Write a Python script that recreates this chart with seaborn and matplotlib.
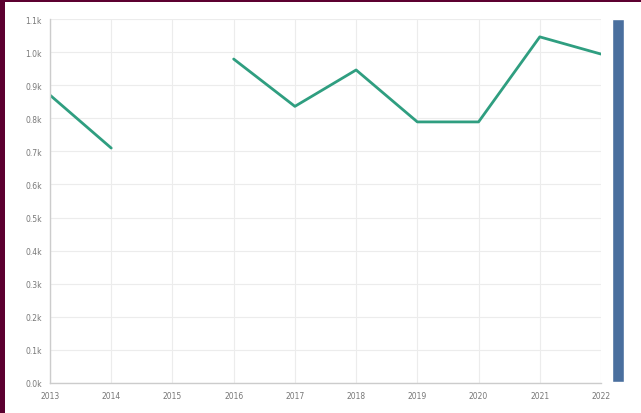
import seaborn as sns
import matplotlib.pyplot as plt
import matplotlib.patches as mpatches
import numpy as np
import pandas as pd

# dados (2015 sem valor)
anos = [2013, 2014, 2015, 2016, 2017, 2018, 2019, 2020, 2021, 2022]
valores = [870, 710, np.nan, 979, 836, 946, 789, 789, 1046, 994]
segmento = [0, 0, 1, 2, 2, 2, 2, 2, 2, 2]
y_ticks = [i * 100 for i in range(12)]

df = pd.DataFrame({"ano": anos, "valor": valores, "seg": segmento}).dropna()

sns.set_style("white")
plt.rcParams["font.family"] = ["DejaVu Sans"]

fig = plt.figure(figsize=(6.41, 4.14), dpi=100)
fig.patch.set_facecolor("#5c0030")
fig.patches.append(mpatches.Rectangle((5 / 641, 0), 1, 1 - 3 / 414, transform=fig.transFigure,
                                      facecolor="white", edgecolor="none", zorder=-10))

ax = fig.add_axes([50 / 641, 30 / 414, 551 / 641, 364 / 414])
ax.set_facecolor("white")

sns.lineplot(data=df, x="ano", y="valor", units="seg", estimator=None,
             color="#2f9e80", linewidth=2, ax=ax)

ax.set_xlim(2013, 2022)
ax.set_ylim(0, 1100)
ax.set_xticks(anos)
ax.set_xticklabels([str(a) for a in anos])
ax.set_yticks(y_ticks)
ax.set_yticklabels([f"{v / 1000:.1f}k" for v in y_ticks])
ax.grid(True, color="#ececec", linewidth=0.8)
ax.set_xlabel("")
ax.set_ylabel("")
for lado in ["top", "right"]:
    ax.spines[lado].set_visible(False)
for lado in ["left", "bottom"]:
    ax.spines[lado].set_color("#cccccc")
    ax.spines[lado].set_linewidth(1)
ax.tick_params(axis="both", labelsize=5.5, colors="#888888", length=3, width=0.6, pad=3)
for lbl in ax.get_xticklabels() + ax.get_yticklabels():
    lbl.set_color("#777777")

# barra azul à direita
ax2 = fig.add_axes([612 / 641, 31 / 414, 12 / 641, 363 / 414])
ax2.bar([0], [1], width=1, color="#4a6f9e")
ax2.set_xlim(-0.5, 0.5)
ax2.set_ylim(0, 1)
ax2.axis("off")

plt.savefig("out.png", dpi=100, facecolor=fig.get_facecolor())
